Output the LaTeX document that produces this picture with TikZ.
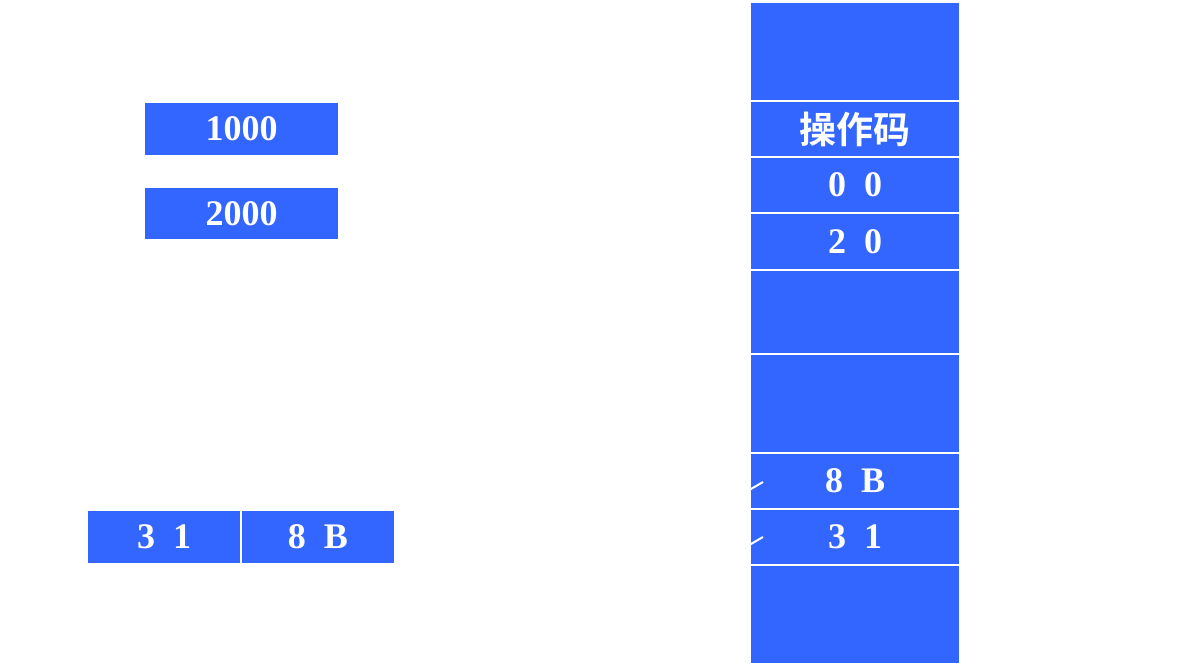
\documentclass[tikz,border=0pt]{standalone}
\usepackage{fontspec}
\setmainfont{Liberation Serif}
\newfontfamily\cjk{Noto Sans CJK SC}[BoldFont={* Bold}]
\definecolor{cellblue}{HTML}{3366FF}
\begin{document}
\begin{tikzpicture}[x=1pt,y=-1pt,
  cell/.style={rectangle, fill=cellblue, draw=white, line width=1.6pt, inner sep=0pt,
     text=white, font=\fontsize{36}{42}\selectfont\bfseries},
  colcell/.style={cell, minimum width=210pt},
  tickline/.style={draw=white, line width=2pt}]
\useasboundingbox (0,0) rectangle (1189,667);
% memory column
\node[colcell, minimum height=99pt] (c1) at (855,51.5) {};
\node[colcell, minimum height=56pt] (c2) at (855,129) {\fontsize{37}{42}\selectfont\cjk\bfseries 操作码};
\node[colcell, minimum height=56pt] (c3) at (855,185) {0~~0};
\node[colcell, minimum height=57pt] (c4) at (855,241.5) {2~~0};
\node[colcell, minimum height=84pt] (c5) at (855,312) {};
\node[colcell, minimum height=99pt] (c6) at (855,403.5) {};
\node[colcell, minimum height=56pt] (c7) at (855,481) {8~~B};
\node[colcell, minimum height=56pt] (c8) at (855,537) {3~~1};
\node[colcell, minimum height=99pt] (c9) at (855,614.5) {};
% left boxes
\node[cell, minimum width=195pt, minimum height=54pt] (r1) at (241.5,129) {1000};
\node[cell, minimum width=195pt, minimum height=53pt] (r2) at (241.5,213.5) {2000};
\node[cell, minimum width=154pt, minimum height=54pt] (a1) at (164,537) {3~~1};
\node[cell, minimum width=154pt, minimum height=54pt] (a2) at (318,537) {8~~B};
% small marks at the column's left edge
\coordinate (m1) at (763,482);
\coordinate (m2) at (763,537);
\draw[tickline] (c7.west |- 0,490) -- (m1);
\draw[tickline] (c8.west |- 0,545) -- (m2);
\end{tikzpicture}
\end{document}
